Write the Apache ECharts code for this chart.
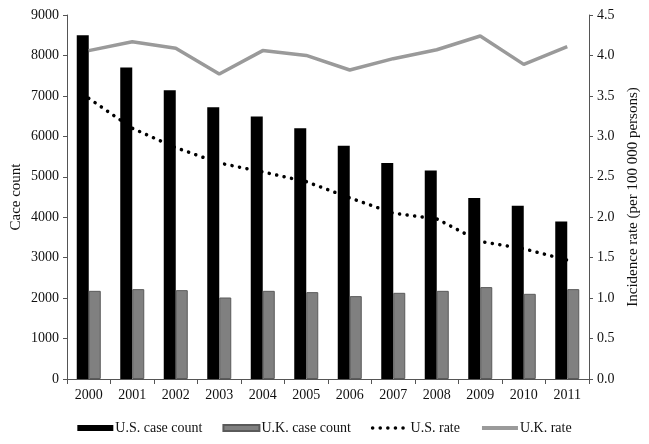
<!DOCTYPE html>
<html>
<head>
<meta charset="utf-8">
<script src="https://cdn.jsdelivr.net/npm/echarts@6/dist/echarts.min.js"></script>
<style>html,body{margin:0;padding:0;background:#fff}#c{width:649px;height:444px}</style>
</head>
<body>
<div id="c"></div>
<script>
var years = ['2000','2001','2002','2003','2004','2005','2006','2007','2008','2009','2010','2011'];
var usCount = [8500, 7700, 7140, 6720, 6490, 6200, 5765, 5340, 5155, 4474, 4284, 3896];
var ukCount = [2180, 2222, 2197, 2015, 2180, 2148, 2049, 2131, 2180, 2272, 2106, 2222];
var usRate = [3.47, 3.10, 2.86, 2.67, 2.56, 2.44, 2.24, 2.05, 1.98, 1.70, 1.61, 1.47];
var ukRate = [4.06, 4.17, 4.09, 3.77, 4.06, 4.00, 3.82, 3.96, 4.07, 4.24, 3.89, 4.11];
var leftTicks = {min: 0, max: 9000, interval: 1000};
var rightTicks = {min: 0, max: 4.5, interval: 0.5};

var font = 'Liberation Serif';
var chart = echarts.init(document.getElementById('c'));
chart.setOption({
  animation: false,
  textStyle: {fontFamily: font},
  grid: {left: 67, right: 60, top: 15, bottom: 65, outerBoundsMode: 'none', containLabel: false},
  legend: {
    bottom: 4,
    left: 'center',
    itemWidth: 36,
    itemHeight: 6,
    itemGap: 20,
    textStyle: {fontFamily: font, fontSize: 14, color: '#111', padding: [0, 0, 0, -3]},
    data: [
      {name: 'U.S. case count', icon: 'rect'},
      {name: 'U.K. case count', icon: 'rect'},
      {name: 'U.S. rate', itemStyle: {opacity: 0}, lineStyle: {width: 3.5}},
      {name: 'U.K. rate', itemStyle: {opacity: 0}, lineStyle: {width: 4}}
    ]
  },
  xAxis: {
    type: 'category',
    data: years,
    axisLine: {lineStyle: {color: '#555', width: 1}},
    axisTick: {show: true, length: 5, lineStyle: {color: '#555'}},
    axisLabel: {fontFamily: font, fontSize: 14, color: '#111', margin: 9}
  },
  yAxis: [
    {
      type: 'value', min: leftTicks.min, max: leftTicks.max, interval: leftTicks.interval,
      name: 'Cace count', nameLocation: 'middle', nameGap: 43, nameMoveOverlap: false,
      nameTextStyle: {fontFamily: font, fontSize: 15, color: '#111'},
      axisLine: {show: true, lineStyle: {color: '#555'}},
      axisTick: {show: true, length: 4, lineStyle: {color: '#555'}},
      axisLabel: {fontFamily: font, fontSize: 14, color: '#111', margin: 8,
        formatter: function (v) { return String(v); }},
      splitLine: {show: false}
    },
    {
      type: 'value', min: rightTicks.min, max: rightTicks.max, interval: rightTicks.interval,
      name: 'Incidence rate (per 100 000 persons)', nameLocation: 'middle', nameGap: 37, nameMoveOverlap: false,
      nameTextStyle: {fontFamily: font, fontSize: 15, color: '#111'},
      axisLine: {show: true, lineStyle: {color: '#555'}},
      axisTick: {show: true, length: 4, lineStyle: {color: '#555'}},
      axisLabel: {fontFamily: font, fontSize: 14, color: '#111', margin: 8,
        formatter: function (v) { return v.toFixed(1); }},
      splitLine: {show: false}
    }
  ],
  series: [
    {
      name: 'U.S. case count', type: 'bar', data: usCount, yAxisIndex: 0,
      barWidth: 12, barGap: '0%',
      itemStyle: {color: '#000'}
    },
    {
      name: 'U.K. case count', type: 'bar', data: ukCount, yAxisIndex: 0,
      barWidth: 12,
      itemStyle: {color: '#808080', borderColor: '#5a5a5a', borderWidth: 1}
    },
    {
      name: 'U.S. rate', type: 'line', data: usRate, yAxisIndex: 1,
      symbol: 'none', z: 5,
      itemStyle: {color: '#000'},
      lineStyle: {color: '#000', width: 3.5, type: [0.1, 7.5], cap: 'round'}
    },
    {
      name: 'U.K. rate', type: 'line', data: ukRate, yAxisIndex: 1,
      symbol: 'none', z: 4,
      itemStyle: {color: '#9a9a9a'},
      lineStyle: {color: '#9a9a9a', width: 3.5}
    }
  ]
});
</script>
</body>
</html>
